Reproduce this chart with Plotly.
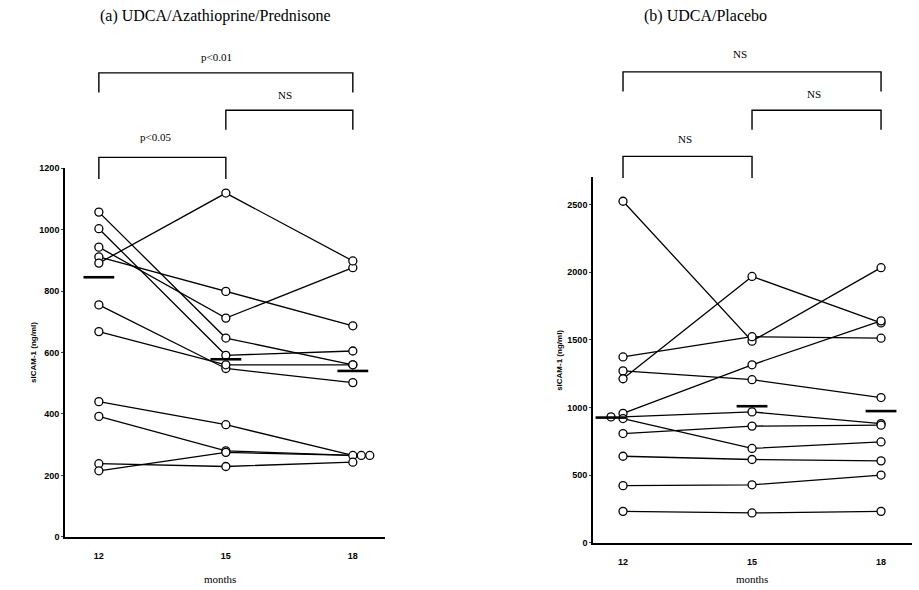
import plotly.graph_objects as go

W, H = 919, 590

months = [12, 15, 18]

# Panel (a) UDCA/Azathioprine/Prednisone : sICAM-1 (ng/ml) per patient at 12, 15, 18 months
left_values = [
    [1057, 647, 560],
    [1003, 591, 605],
    [943, 712, 876],
    [911, 799, 687],
    [891, 1119, 898],
    [755, 548, 502],
    [668, 560, 560],
    [440, 365, 265],
    [392, 280, 265],
    [238, 229, 243],
    [215, 275, 265],
]
left_bars = [845, 578, 540]
left_ticks = [0, 200, 400, 600, 800, 1000, 1200]

# Panel (b) UDCA/Placebo
right_values = [
    [2524, 1490, 2033],
    [1373, 1523, 1512],
    [1270, 1205, 1073],
    [1212, 1968, 1625],
    [956, 1315, 1640],
    [930, 967, 881],
    [918, 697, 745],
    [807, 862, 869],
    [639, 615, 605],
    [422, 428, 500],
    [232, 220, 232],
]
right_bars = [925, 1009, 973]
right_ticks = [0, 500, 1000, 1500, 2000, 2500]

# overlapping circles drawn side by side: (series, time index) -> month offset
left_dodge = {(8, 2): 0.2, (10, 2): 0.4}
right_dodge = {(5, 0): -0.28}
right_bar_dodge = [-0.28, 0, 0]

left_brackets = [((12, 18), 69, 89, "p<0.01", 53, -9),
                 ((15, 18), 107, 127, "NS", 92, -4),
                 ((12, 15), 155, 177, "p<0.05", 134, -7)]
right_brackets = [((12, 18), 68, 88, "NS", 50, -12),
                  ((15, 18), 107, 127, "NS", 91, -3),
                  ((12, 15), 154, 176, "NS", 136, -3)]


def py(p):
    return 1 - p / H


def px(p):
    return p / W


fig = go.Figure()

SERIF = "Liberation Serif, DejaVu Serif, serif"
SANS = "Liberation Sans, Arial, sans-serif"


def add_panel(values, bars, dodge, bar_dodge, xa, ya):
    for i, vals in enumerate(values):
        fig.add_trace(go.Scatter(x=months, y=vals, mode="lines", xaxis=xa, yaxis=ya,
                                 line=dict(color="black", width=1.3), showlegend=False,
                                 hoverinfo="skip"))
    for i, vals in enumerate(values):
        xs = [m + dodge.get((i, j), 0) for j, m in enumerate(months)]
        fig.add_trace(go.Scatter(x=xs, y=vals, mode="markers", xaxis=xa, yaxis=ya,
                                 marker=dict(symbol="circle", size=8, color="white",
                                             line=dict(color="black", width=1.3)),
                                 showlegend=False))
    fig.add_trace(go.Scatter(x=[m + d for m, d in zip(months, bar_dodge)], y=bars,
                             mode="markers", xaxis=xa, yaxis=ya,
                             marker=dict(symbol="line-ew", size=22,
                                         line=dict(color="black", width=2.6)),
                             showlegend=False))


add_panel(left_values, left_bars, left_dodge, [0, 0, 0], "x", "y")
add_panel(right_values, right_bars, right_dodge, right_bar_dodge, "x2", "y2")

axis_common = dict(showline=True, linecolor="black", linewidth=1.6, showgrid=False,
                   zeroline=False, mirror=False)
xtickfont = dict(family=SANS, size=9, color="black", weight="bold")
ytickfont = dict(family=SANS, size=9, color="black", weight="bold")

fig.update_layout(
    width=W, height=H, margin=dict(l=0, r=0, t=0, b=0),
    paper_bgcolor="white", plot_bgcolor="white",
    xaxis=dict(domain=[px(65), px(385)], range=[11.2, 18.76], tickvals=months,
               ticks="", tickfont=xtickfont, ticklabelstandoff=10, anchor="y", **axis_common),
    yaxis=dict(domain=[py(541), py(166)], range=[0, 1200], tickvals=left_ticks,
               ticks="outside", ticklen=2, tickwidth=1, tickfont=ytickfont,
               ticklabelstandoff=0, anchor="x", **axis_common),
    xaxis2=dict(domain=[px(593), px(912)], range=[11.302, 18.72], tickvals=months,
                ticks="", tickfont=xtickfont, ticklabelstandoff=10, anchor="y2", **axis_common),
    yaxis2=dict(domain=[py(547), py(175)], range=[0, 2703], tickvals=right_ticks,
                ticks="outside", ticklen=2, tickwidth=1, tickfont=ytickfont,
                ticklabelstandoff=0, anchor="x2", **axis_common),
)

shapes = []
annotations = []


def add_brackets(brs, xref):
    for (a, b), top, bot, label, ly, shift in brs:
        shapes.append(dict(type="path", xref=xref, yref="paper",
                           path=f"M {a},{py(bot)} L {a},{py(top)} L {b},{py(top)} L {b},{py(bot)}",
                           line=dict(color="black", width=1.4)))
        annotations.append(dict(x=(a + b) / 2, y=py(ly), xref=xref, yref="paper", text=label,
                                showarrow=False, xshift=shift, xanchor="center", yanchor="middle",
                                font=dict(family=SERIF, size=11, color="black")))


add_brackets(left_brackets, "x")
add_brackets(right_brackets, "x2")

annotations += [
    dict(x=px(215), y=py(11), text="(a) UDCA/Azathioprine/Prednisone",
         font=dict(family=SERIF, size=16, color="black")),
    dict(x=px(705), y=py(11), text="(b) UDCA/Placebo",
         font=dict(family=SERIF, size=16, color="black")),
    dict(x=px(33), y=py(354), text="sICAM-1 (ng/ml)", textangle=-90,
         font=dict(family=SANS, size=8, color="black", weight="bold")),
    dict(x=px(560), y=py(362), text="sICAM-1 (ng/ml)", textangle=-90,
         font=dict(family=SANS, size=8, color="black", weight="bold")),
    dict(x=px(220), y=py(584), text="months",
         font=dict(family=SERIF, size=11, color="black")),
    dict(x=px(752), y=py(584), text="months",
         font=dict(family=SERIF, size=11, color="black")),
]
for a in annotations[-6:]:
    a.update(xref="paper", yref="paper", showarrow=False, xanchor="center", yanchor="middle")

fig.update_layout(shapes=shapes, annotations=annotations)

fig.write_html("out.html")
